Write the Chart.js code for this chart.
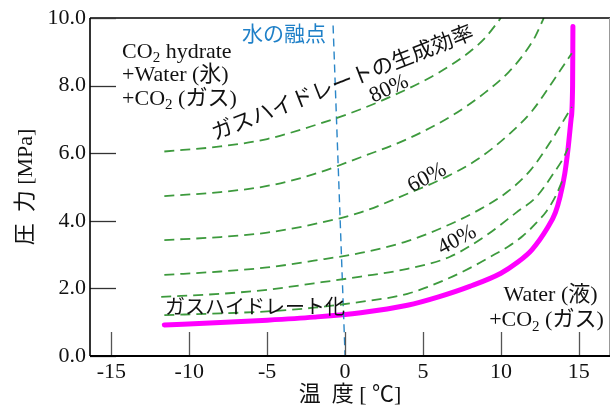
<!DOCTYPE html>
<html><head><meta charset="utf-8">
<script src="https://cdn.jsdelivr.net/npm/chart.js@4"></script>
<style>html,body{margin:0;padding:0;background:#fff}#wrap{width:611px;height:410px}</style>
</head><body><div id="wrap"><canvas id="c" width="611" height="410"></canvas></div>
<script>
const xTickValues = [-15, -10, -5, 0, 5, 10, 15];
const yTickValues = [0, 2, 4, 6, 8, 10];

// Hydrate equilibrium curve (magenta)
const hydrateT = [-11.6, -8, -5, -2, 1, 4, 6, 8, 10, 11, 12, 13, 13.5, 13.8, 14.1, 14.3, 14.5, 14.6, 14.62];
const hydrateP = [0.92, 0.99, 1.06, 1.15, 1.28, 1.5, 1.75, 2.06, 2.45, 2.75, 3.15, 3.8, 4.25, 4.72, 5.4, 6.1, 7.0, 8.0, 9.75];

// Hydrate formation efficiency lines (green dashed)
const eff80T = [-11.6, -8, -5, -2, 1, 4, 6, 8, 9, 10];
const eff80P = [6.05, 6.2, 6.42, 6.82, 7.3, 7.9, 8.38, 9.0, 9.42, 10.0];
const eff70T = [-11.6, -8, -5, -2, 1, 4, 7, 9, 10.5, 11.5, 12.2, 12.75];
const eff70P = [4.73, 4.85, 5.03, 5.38, 5.88, 6.42, 7.15, 7.8, 8.4, 8.95, 9.45, 10.0];
const eff60T = [-11.6, -8, -5, -2, 1, 4, 6.5, 8.5, 10.5, 12, 13.3, 14.55];
const eff60P = [3.43, 3.52, 3.65, 3.9, 4.25, 4.8, 5.3, 5.82, 6.55, 7.25, 8.1, 8.96];
const eff50T = [-11.6, -8, -5, -2, 1, 4, 6.5, 8.5, 10.4, 11.9, 13.2, 14.55];
const eff50P = [2.4, 2.5, 2.62, 2.82, 3.05, 3.4, 3.85, 4.3, 4.85, 5.5, 6.35, 7.37];
const eff40T = [-11.8, -8, -5, -2, 1, 4, 6.7, 9, 11, 12.3, 13.4, 14.0, 14.3];
const eff40P = [1.75, 1.84, 1.96, 2.15, 2.35, 2.58, 2.93, 3.55, 4.25, 4.72, 5.42, 5.85, 6.15];
const eff30T = [-11.6, -8, -5, -2, 1, 4, 6.4, 8, 9.3, 10.5, 11.4, 12.3, 12.95, 13.5, 14.0];
const eff30P = [1.21, 1.26, 1.32, 1.43, 1.6, 1.84, 2.25, 2.6, 2.93, 3.25, 3.55, 3.95, 4.3, 4.72, 5.25];

// Melting point of water line (blue dashed)
const meltT = [-0.77, 0];
const meltP = [9.78, 0];

const SERIF = "'Liberation Serif', 'Noto Sans CJK JP', serif";
const GOTHIC = "'Noto Sans CJK JP', sans-serif";

const pts = (T, P) => T.map((t, i) => ({x: t, y: P[i]}));
const green = (T, P) => ({data: pts(T, P), borderColor: '#3d9a3d', borderWidth: 1.8, borderDash: [10, 6], pointRadius: 0, cubicInterpolationMode: 'monotone', fill: false});

function rich(ctx, parts, x, y, size, align) {
  const fMain = size + 'px ' + SERIF, fSub = Math.round(size * 0.68) + 'px ' + SERIF;
  let w = 0;
  parts.forEach(p => { ctx.font = p[1] ? fSub : fMain; w += ctx.measureText(p[0]).width; });
  let cx = align === 'right' ? x - w : x;
  ctx.textAlign = 'left'; ctx.textBaseline = 'alphabetic';
  parts.forEach(p => {
    ctx.font = p[1] ? fSub : fMain;
    ctx.fillText(p[0], cx, p[1] ? y + size * 0.2 : y);
    cx += ctx.measureText(p[0]).width;
  });
}

const deco = {
  id: 'deco',
  afterDraw(chart) {
    const ctx = chart.ctx, ca = chart.chartArea, xs = chart.scales.x, ys = chart.scales.y;
    ctx.save();
    // frame
    ctx.lineWidth = 1.5; ctx.strokeStyle = '#000';
    ctx.beginPath(); ctx.moveTo(ca.left, ca.top); ctx.lineTo(ca.right, ca.top); ctx.stroke();
    ctx.lineWidth = 1; ctx.strokeStyle = '#999';
    ctx.beginPath(); ctx.moveTo(ca.right - 0.5, ca.top); ctx.lineTo(ca.right - 0.5, ca.bottom); ctx.stroke();
    // inward ticks
    ctx.lineWidth = 1.3; ctx.strokeStyle = '#555';
    xTickValues.forEach(v => { const px = Math.round(xs.getPixelForValue(v)) + 0.5; ctx.beginPath(); ctx.moveTo(px, ca.bottom); ctx.lineTo(px, ca.bottom - 24); ctx.stroke(); });
    ctx.strokeStyle = '#333';
    yTickValues.forEach(v => { const py = Math.round(ys.getPixelForValue(v)) + 0.5; ctx.beginPath(); ctx.moveTo(ca.left, py); ctx.lineTo(ca.left + 26, py); ctx.stroke(); });
    // axes
    ctx.strokeStyle = '#000'; ctx.lineWidth = 1.6;
    ctx.beginPath(); ctx.moveTo(ca.left, ca.top); ctx.lineTo(ca.left, ca.bottom); ctx.stroke();
    ctx.lineWidth = 2;
    ctx.beginPath(); ctx.moveTo(ca.left, ca.bottom); ctx.lineTo(ca.right, ca.bottom); ctx.stroke();

    // axis titles
    ctx.fillStyle = '#111';
    ctx.font = '22px ' + SERIF; ctx.textAlign = 'center'; ctx.textBaseline = 'middle';
    ctx.fillText('温\u2002度 [ ℃]', (ca.left + ca.right) / 2, 395);
    ctx.save(); ctx.translate(26, (ca.top + ca.bottom) / 2); ctx.rotate(-Math.PI / 2);
    ctx.fillText('圧\u2002力 [MPa]', 0, 0); ctx.restore();

    const X = v => xs.getPixelForValue(v), Y = v => ys.getPixelForValue(v);
    // region labels
    rich(ctx, [['CO'], ['2', 1], [' hydrate']], X(-14.31), Y(8.82), 22, 'left');
    rich(ctx, [['+Water (氷)']], X(-14.31), Y(8.13), 22, 'left');
    rich(ctx, [['+CO'], ['2', 1], [' (ガス)']], X(-14.31), Y(7.44), 22, 'left');
    rich(ctx, [['Water (液)']], X(16.2), Y(1.63), 22, 'right');
    rich(ctx, [['+CO'], ['2', 1], [' (ガス)']], X(16.6), Y(0.88), 22, 'right');

    // melting point label
    ctx.fillStyle = '#1f80c8'; ctx.font = '21px ' + GOTHIC; ctx.textAlign = 'left'; ctx.textBaseline = 'middle';
    ctx.fillText('水の融点', X(-6.61), Y(9.56));

    ctx.fillStyle = '#111';
    ctx.font = '20px ' + GOTHIC;
    ctx.fillText('ガスハイドレート化', X(-11.55), Y(1.48));

    const rot = (txt, t, p, ang, font) => {
      ctx.save(); ctx.translate(X(t), Y(p)); ctx.rotate(ang * Math.PI / 180);
      ctx.font = font; ctx.textAlign = 'center'; ctx.textBaseline = 'middle';
      ctx.fillText(txt, 0, 0); ctx.restore();
    };
    rot('ガスハイドレートの生成効率', -0.2, 8.12, -21.5, '21.5px ' + GOTHIC);
    rot('80%', 2.82, 7.9, -25, '22px ' + SERIF);
    rot('60%', 5.26, 5.27, -28, '22px ' + SERIF);
    rot('40%', 7.19, 3.43, -28, '22px ' + SERIF);
    ctx.restore();
  }
};

new Chart(document.getElementById('c'), {
  type: 'line',
  data: {
    datasets: [
      green(eff80T, eff80P), green(eff70T, eff70P), green(eff60T, eff60P),
      green(eff50T, eff50P), green(eff40T, eff40P), green(eff30T, eff30P),
      {data: pts(meltT, meltP), borderColor: '#2a86c8', borderWidth: 1.4, borderDash: [8, 5], pointRadius: 0, tension: 0, fill: false},
      {data: pts(hydrateT, hydrateP), borderColor: '#ff00ff', borderWidth: 5, pointRadius: 0, cubicInterpolationMode: 'monotone', fill: false, borderCapStyle: 'round'}
    ]
  },
  options: {
    responsive: false, animation: false, devicePixelRatio: 1,
    layout: {padding: {top: 18, right: 1, left: 0, bottom: 0}},
    plugins: {legend: {display: false}, tooltip: {enabled: false}},
    scales: {
      x: {
        type: 'linear', min: -16.37, max: 17,
        afterBuildTicks: s => { s.ticks = xTickValues.map(v => ({value: v})); },
        afterFit: s => { s.height = 54; },
        grid: {display: false, drawTicks: false}, border: {display: false},
        ticks: {font: {family: SERIF, size: 22}, color: '#111', padding: 3, autoSkip: false, maxRotation: 0, callback: v => String(v)}
      },
      y: {
        type: 'linear', min: 0, max: 10,
        afterBuildTicks: s => { s.ticks = yTickValues.map(v => ({value: v})); },
        afterFit: s => { s.width = 90; },
        grid: {display: false, drawTicks: false}, border: {display: false},
        ticks: {font: {family: SERIF, size: 22}, color: '#111', padding: 4, autoSkip: false, callback: v => v.toFixed(1)}
      }
    }
  },
  plugins: [deco]
});
</script></body></html>
